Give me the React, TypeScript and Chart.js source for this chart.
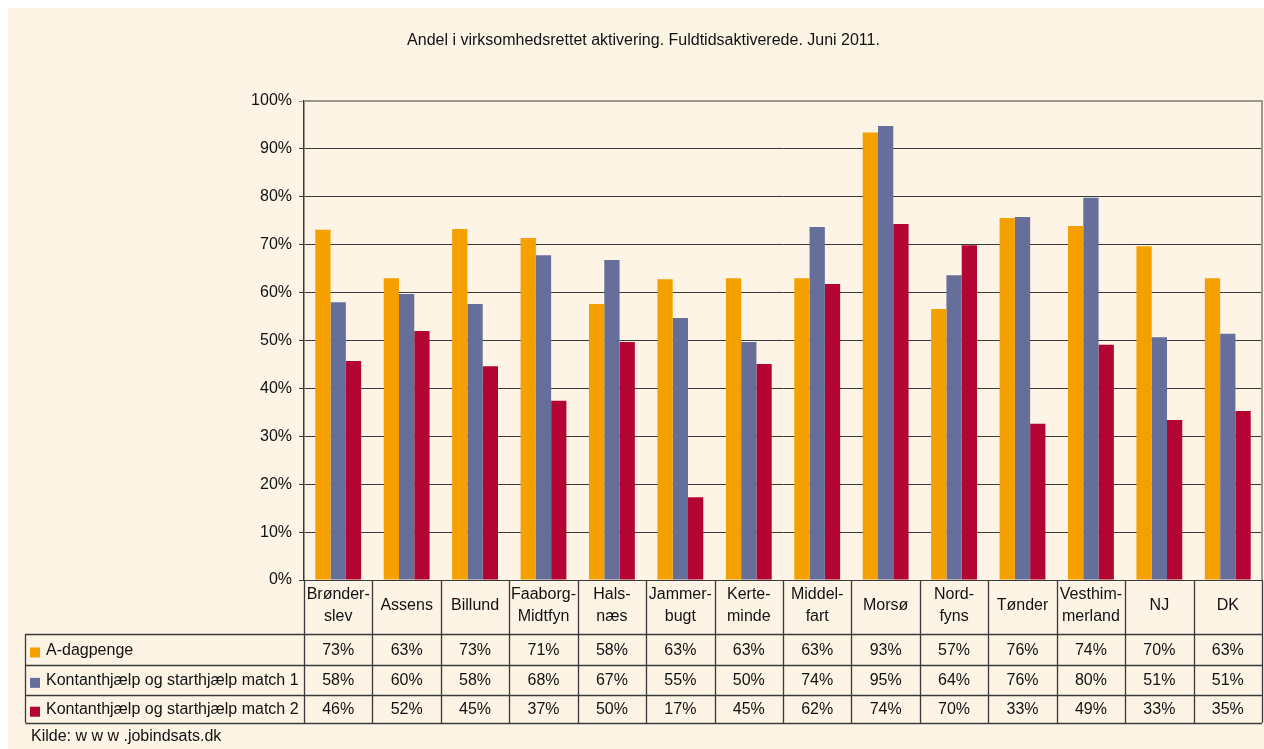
import React, { useEffect, useRef } from "react";
import { Chart, registerables } from "chart.js";

Chart.register(...registerables);

const TITLE = "Andel i virksomhedsrettet aktivering. Fuldtidsaktiverede. Juni 2011.";
const SOURCE = "Kilde: w w w .jobindsats.dk";

const categories: string[][] = [
  ["Brønder-", "slev"],
  ["Assens"],
  ["Billund"],
  ["Faaborg-", "Midtfyn"],
  ["Hals-", "næs"],
  ["Jammer-", "bugt"],
  ["Kerte-", "minde"],
  ["Middel-", "fart"],
  ["Morsø"],
  ["Nord-", "fyns"],
  ["Tønder"],
  ["Vesthim-", "merland"],
  ["NJ"],
  ["DK"],
];

const seriesNames = [
  "A-dagpenge",
  "Kontanthjælp og starthjælp match 1",
  "Kontanthjælp og starthjælp match 2",
];

const aDagpenge = [73.1, 63.0, 73.3, 71.4, 57.6, 62.8, 63.0, 63.0, 93.4, 56.6, 75.6, 73.9, 69.7, 63.0];
const match1 = [58.0, 59.7, 57.6, 67.8, 66.8, 54.7, 49.7, 73.7, 94.8, 63.6, 75.8, 79.8, 50.7, 51.4];
const match2 = [45.7, 52.0, 44.6, 37.4, 49.7, 17.3, 45.1, 61.8, 74.3, 69.9, 32.6, 49.1, 33.4, 35.3];

const yTicks = [0, 10, 20, 30, 40, 50, 60, 70, 80, 90, 100];

const colors = ["#F4A000", "#666E9A", "#B30433"];
const BG = "#FDF4E6";
const FONT = 'Arial, "Liberation Sans", sans-serif';

const tablePlugin = {
  id: "tablePlugin",
  beforeDraw(chart: any) {
    const ctx = chart.ctx;
    ctx.save();
    ctx.fillStyle = BG;
    ctx.fillRect(0, 0, chart.width, chart.height);
    ctx.restore();
  },
  afterDraw(chart: any) {
    const ctx = chart.ctx;
    const area = chart.chartArea;
    const x = chart.scales.x;
    const n = categories.length;
    const colW = (area.right - area.left) / n;
    const tableLeft = 17.5;
    const headerBottom = area.bottom + 54;
    const rowHeights = [31, 29.7, 28];
    const rowTops = [headerBottom];
    rowHeights.forEach((h, i) => rowTops.push(rowTops[i] + h));
    const tableBottom = rowTops[rowTops.length - 1];

    ctx.save();
    // right/top plot border
    ctx.strokeStyle = "#9a9890";
    ctx.lineWidth = 2;
    ctx.beginPath();
    ctx.moveTo(area.left, area.top);
    ctx.lineTo(area.right, area.top);
    ctx.lineTo(area.right, area.bottom);
    ctx.stroke();

    // table lines
    ctx.strokeStyle = "#3a3a3a";
    ctx.lineWidth = 1.3;
    ctx.beginPath();
    for (let i = 0; i <= n; i++) {
      const xx = Math.round(area.left + i * colW) + 0.5;
      ctx.moveTo(xx, area.bottom);
      ctx.lineTo(xx, tableBottom);
    }
    ctx.moveTo(tableLeft, headerBottom);
    ctx.lineTo(tableLeft, tableBottom);
    rowTops.forEach((t) => {
      const yy = Math.round(t) + 0.5;
      ctx.moveTo(tableLeft, yy);
      ctx.lineTo(area.right, yy);
    });
    ctx.stroke();

    ctx.fillStyle = "#111";
    ctx.textAlign = "center";
    ctx.textBaseline = "middle";
    ctx.font = `16px ${FONT}`;
    // category headers
    categories.forEach((lines, i) => {
      const cx = x.getPixelForValue(i);
      if (lines.length === 1) {
        ctx.fillText(lines[0], cx, area.bottom + 26);
      } else {
        ctx.fillText(lines[0], cx, area.bottom + 15);
        ctx.fillText(lines[1], cx, area.bottom + 37);
      }
    });

    const allSeries = [aDagpenge, match1, match2];
    allSeries.forEach((vals, r) => {
      const cy = (rowTops[r] + rowTops[r + 1]) / 2 + 1;
      ctx.fillStyle = colors[r];
      ctx.fillRect(22, cy - 3, 10, 10);
      ctx.fillStyle = "#111";
      ctx.textAlign = "left";
      ctx.fillText(seriesNames[r], 38, cy);
      ctx.textAlign = "center";
      vals.forEach((v, i) => {
        ctx.fillText(Math.round(v) + "%", x.getPixelForValue(i), cy);
      });
    });

    ctx.textAlign = "left";
    ctx.fillText(SOURCE, 23, tableBottom + 14);

    ctx.textAlign = "center";
    ctx.fillText(TITLE, 635.5, 33);
    ctx.restore();
  },
};

export default function App() {
  const ref = useRef<HTMLCanvasElement | null>(null);
  useEffect(() => {
    if (!ref.current) return;
    const chart = new Chart(ref.current, {
      type: "bar",
      data: {
        labels: categories.map((c) => c.join(" ")),
        datasets: [aDagpenge, match1, match2].map((d, i) => ({
          label: seriesNames[i],
          data: d,
          backgroundColor: colors[i],
          borderWidth: 0,
          categoryPercentage: 0.67,
          barPercentage: 1.0,
        })),
      },
      options: {
        animation: false,
        responsive: true,
        maintainAspectRatio: false,
        layout: { padding: { left: 236, right: 2, top: 93, bottom: 169 } },
        plugins: {
          legend: { display: false },
          tooltip: { enabled: false },
          title: { display: false },
        },
        scales: {
          x: {
            display: false,
          },
          y: {
            min: 0,
            max: 100,
            afterFit: (scale: any) => {
              scale.width = 60;
            },
            afterBuildTicks: (scale: any) => {
              scale.ticks = yTicks.map((v) => ({ value: v }));
            },
            ticks: {
              padding: 7,
              color: "#111",
              font: { family: FONT, size: 16 },
              callback: (v: any) => v + "%",
            },
            grid: {
              color: (c: any) => (c.tick && c.tick.value === 100 ? "#9a9890" : "#3a3a3a"),
              lineWidth: 1,
              tickLength: 5,
              drawTicks: true,
            },
            border: { display: true, color: "#3a3a3a", width: 1.5 },
          },
        },
      },
      plugins: [tablePlugin],
    });
    return () => chart.destroy();
  }, []);
  return (
    <div style={{ position: "absolute", left: 8, top: 8, width: 1256, height: 741 }}>
      <canvas ref={ref} />
    </div>
  );
}
